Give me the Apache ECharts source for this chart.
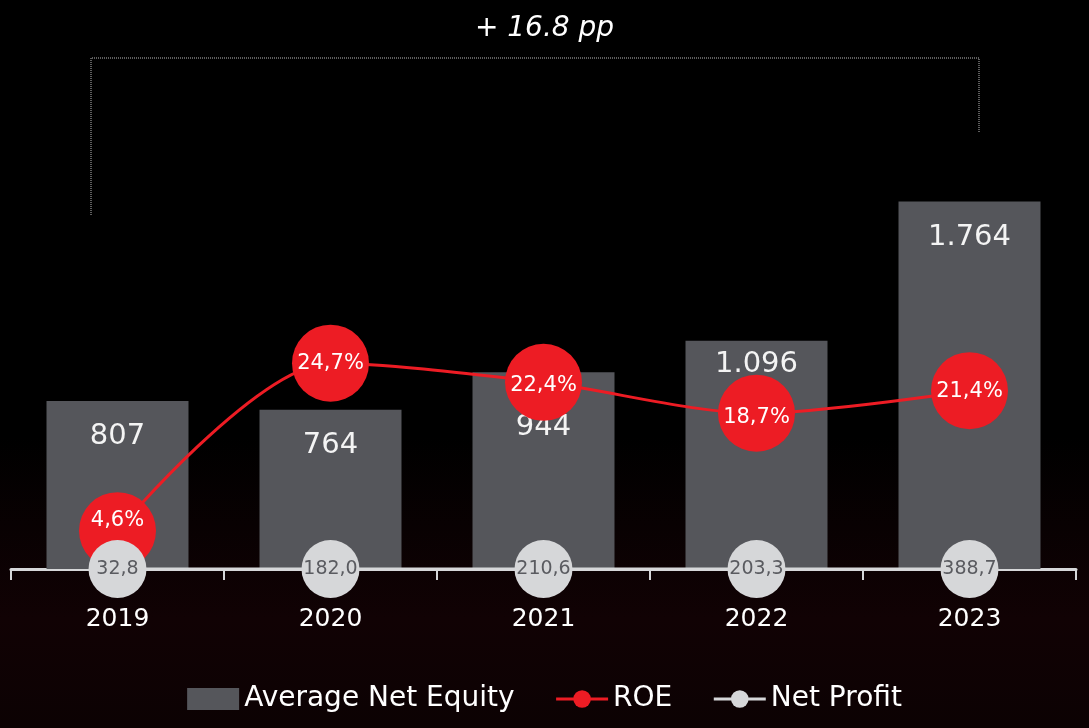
<!DOCTYPE html>
<html>
<head>
<meta charset="utf-8">
<script src="https://cdn.jsdelivr.net/npm/echarts@6/dist/echarts.min.js"></script>
<style>
  html, body { margin: 0; padding: 0; background: #000; }
  #chart { width: 1089px; height: 728px; }
</style>
</head>
<body>
<div id="chart"></div>
<script>
const years = ['2019', '2020', '2021', '2022', '2023']
const equity = [807, 764, 944, 1096, 1764]
const roe = [4.6, 24.7, 22.4, 18.7, 21.4]
const netProfit = [32.8, 182.0, 210.6, 203.3, 388.7]

// small nudges so labels clear the bubbles like in the slide
const equityLabelShift = [0, 0, 20, -12, 0]
const roeLabelShift = [-10, 0, 3, 4, 1]

const font = '"DejaVu Sans", "Open Sans", sans-serif'
const grey = '#d6d7d9'
const red = '#ed1c24'

const thousands = (v) => String(v).replace(/\B(?=(\d{3})+(?!\d))/g, '.')
const comma = (v) => v.toFixed(1).replace('.', ',')

const myChart = echarts.init(document.getElementById('chart'), null, { renderer: 'canvas' })

let option = {
	backgroundColor: '#000',
	animation: false,
	textStyle: { fontFamily: font },
	title: {
		text: '+ 16.8 pp',
		left: 'center',
		top: 10,
		textStyle: { color: '#fff', fontSize: 28, fontStyle: 'italic', fontWeight: 'normal', fontFamily: font },
	},
	graphic: [
		{
			type: 'rect',
			z: -10,
			silent: true,
			shape: { x: 0, y: 0, width: 1089, height: 728 },
			style: {
				fill: new echarts.graphic.LinearGradient(0, 0, 0, 1, [
					{ offset: 0, color: '#000' },
					{ offset: 0.6, color: '#000' },
					{ offset: 0.85, color: '#110204' },
					{ offset: 1, color: '#0c0203' },
				]),
			},
		},
		{
			type: 'polyline',
			silent: true,
			shape: { points: [[91, 215], [91, 58], [979, 58], [979, 133]] },
			style: { stroke: '#bbb', lineWidth: 1, lineDash: [1, 1], fill: null },
		},
	],
	legend: {
		bottom: 10,
		left: 'center',
		itemWidth: 52,
		itemHeight: 22,
		itemGap: 40,
		lineStyle: { width: 3 },
		textStyle: { color: '#fff', fontSize: 28, fontFamily: font },
		data: [
			{ name: 'Average Net Equity', icon: 'rect' },
			{ name: 'ROE' },
			{ name: 'Net Profit' },
		],
	},
	grid: { left: 11, right: 13, top: 69, bottom: 159 },
	xAxis: {
		type: 'category',
		data: years,
		axisLine: { lineStyle: { color: grey, width: 3 } },
		axisTick: { show: true, length: 11, lineStyle: { color: grey, width: 2 } },
		axisLabel: { color: '#fff', fontSize: 25, margin: 38, fontFamily: font },
		splitLine: { show: false },
	},
	yAxis: [
		{ type: 'value', min: 0, max: 2400, show: false, splitLine: { show: false } },
		{ type: 'value', min: 0, max: 60, show: false, splitLine: { show: false } },
		{ type: 'value', min: 0, max: 1e7, show: false, splitLine: { show: false } },
	],
	series: [
		{
			name: 'Average Net Equity',
			type: 'bar',
			barWidth: 142,
			z: 2,
			itemStyle: { color: '#55565b' },
			label: {
				show: true,
				position: 'insideTop',
				distance: 21,
				color: '#f4f4f4',
				fontSize: 29,
				fontFamily: font,
				formatter: (p) => thousands(p.value),
			},
			data: equity.map((v, i) => ({ value: v, label: { offset: [0, equityLabelShift[i]] } })),
		},
		{
			name: 'ROE',
			type: 'line',
			yAxisIndex: 1,
			z: 3,
			smooth: 0.3,
			symbol: 'circle',
			symbolSize: 77,
			itemStyle: { color: red },
			lineStyle: { color: red, width: 3 },
			label: {
				show: true,
				position: 'inside',
				color: '#fff',
				fontSize: 21,
				fontFamily: font,
				formatter: (p) => comma(p.value) + '%',
			},
			data: roe.map((v, i) => ({ value: v, label: { offset: [0, roeLabelShift[i]] } })),
		},
		{
			name: 'Net Profit',
			type: 'line',
			yAxisIndex: 2,
			z: 4,
			symbol: 'circle',
			symbolSize: 58,
			itemStyle: { color: grey },
			lineStyle: { color: grey, width: 3 },
			label: {
				show: true,
				position: 'inside',
				color: '#5a5b60',
				fontSize: 19,
				fontFamily: font,
				formatter: (p) => comma(p.value),
			},
			data: netProfit,
		},
	],
}
myChart.setOption(option)

window.addEventListener('resize', () => {
	myChart.resize()
})
</script>
</body>
</html>
